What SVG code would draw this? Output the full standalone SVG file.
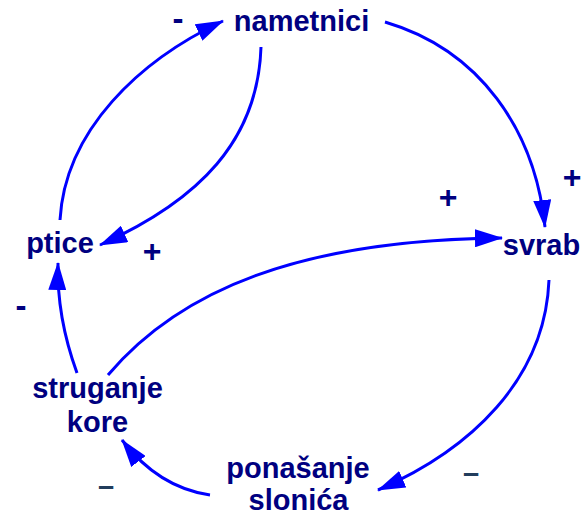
<svg xmlns="http://www.w3.org/2000/svg" width="582" height="515" viewBox="0 0 582 515">
<defs>
<style>
.node{font-family:"Liberation Sans",Arial,sans-serif;font-weight:bold;font-size:29px;fill:#000080;text-anchor:middle}
.sign{font-family:"Liberation Sans",Arial,sans-serif;font-weight:bold;fill:#000080;text-anchor:middle}
.plus{font-size:32px}
.minus{font-size:33px}
.dash{font-size:29px;fill:#223d5c}
.link{fill:none;stroke:#0000ff;stroke-width:3;marker-end:url(#ah)}
</style>
<marker id="ah" viewBox="0 0 28 18" refX="27" refY="9" markerWidth="28" markerHeight="18" markerUnits="userSpaceOnUse" orient="auto">
<path d="M0,0 L28,9 L0,18 z" fill="#0000ff"/>
</marker>
</defs>
<rect width="582" height="515" fill="#ffffff"/>
<g id="connectors">
<path class="link" d="M60,220 C65,130 140,60 223,21"/>
<path class="link" d="M261,47 C258,140 200,200 100,245"/>
<path class="link" d="M385,22 C480,50 535,130 545,227"/>
<path class="link" d="M108,375 C180,290 300,240 502,238"/>
<path class="link" d="M549,280 C545,380 470,450 378,490"/>
<path class="link" d="M210,495 C175,490 145,470 122,440"/>
<path class="link" d="M77,373 C65,340 57,300 58,263"/>
</g>
<g id="node-nametnici"><text class="node" x="301.5" y="31">nametnici</text></g>
<g id="node-ptice"><text class="node" x="60" y="253">ptice</text></g>
<g id="node-svrab"><text class="node" x="541.5" y="255">svrab</text></g>
<g id="node-struganje-kore"><text class="node" x="97.5" y="398">struganje</text><text class="node" x="97.5" y="432">kore</text></g>
<g id="node-ponasanje-slonica"><text class="node" x="298" y="478">ponašanje</text><text class="node" x="298.5" y="510">slonića</text></g>
<g id="signs">
<text class="sign minus" x="178" y="30">-</text>
<text class="sign minus" x="21" y="317">-</text>
<text class="sign plus" x="152" y="262">+</text>
<text class="sign plus" x="448" y="208">+</text>
<text class="sign plus" x="572" y="188">+</text>
<text class="sign dash" x="106" y="496">–</text>
<text class="sign dash" x="471" y="483">–</text>
</g>
</svg>
